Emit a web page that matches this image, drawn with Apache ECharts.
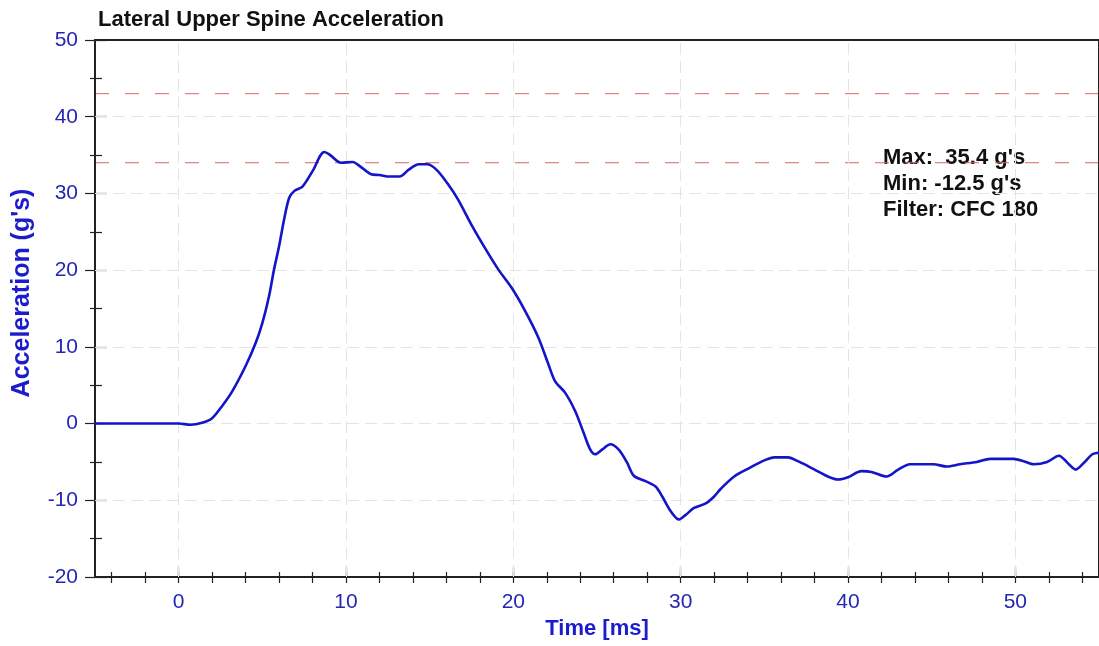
<!DOCTYPE html>
<html>
<head>
<meta charset="utf-8">
<title>Lateral Upper Spine Acceleration</title>
<script src="https://cdn.jsdelivr.net/npm/echarts@6/dist/echarts.min.js"></script>
<style>
  html, body { margin: 0; padding: 0; background: #ffffff; }
  #chart { width: 1099px; height: 646px; }
</style>
</head>
<body>
<div id="chart"></div>
<script>
// Sensor trace: time [ms] and lateral acceleration [g]
var timeMs = [
  -5, 0, 0.7, 1.4, 2.0, 2.6, 3.2, 4.0, 4.6, 5.0, 5.4, 5.7, 6.0, 6.3, 6.6, 6.9,
  7.4, 8.0, 8.7, 9.0, 9.7, 10.4, 10.8, 11.5, 12.0, 12.6, 13.2, 13.75, 14.35, 14.85,
  15.4, 16.1, 16.7, 17.5, 18.3, 19.1, 19.9, 20.7, 21.5, 22.1, 22.5, 23.1, 23.7,
  24.2, 24.6, 24.9, 25.3, 25.8, 26.3, 26.8, 27.2, 27.9, 28.5, 28.9, 29.4, 29.9,
  30.3, 30.8, 31.5, 32.0, 32.4, 33.2, 34.1, 35.0, 35.6, 36.4, 37.1, 38.0, 38.8,
  39.4, 40.0, 40.8, 41.4, 42.3, 43.0, 43.7, 45.1, 45.9, 46.7, 47.7, 48.5, 49.9,
  50.5, 51.1, 51.9, 52.6, 53.2, 53.6, 54.1, 54.6, 55.0
];
var accelG = [
  0, 0, -0.15, 0.1, 0.7, 2.3, 4.2, 7.5, 10.5, 13.1, 16.6, 20.1, 23.1, 26.6, 29.4, 30.3,
  30.9, 32.9, 35.4, 35.1, 34.0, 34.1, 33.6, 32.5, 32.4, 32.2, 32.2, 33.1, 33.8, 33.8,
  33.1, 31.2, 29.2, 25.9, 22.9, 20.1, 17.7, 14.7, 11.2, 7.7, 5.5, 4.0, 1.6,
  -1.2, -3.4, -4.0, -3.4, -2.7, -3.4, -5.1, -6.8, -7.5, -8.2, -9.5, -11.4, -12.5,
  -11.9, -11.0, -10.4, -9.5, -8.5, -6.9, -5.8, -4.8, -4.4, -4.4, -5.0, -6.0, -6.9,
  -7.3, -7.0, -6.2, -6.3, -6.9, -6.0, -5.3, -5.3, -5.6, -5.3, -5.0, -4.6, -4.6,
  -4.9, -5.3, -5.0, -4.2, -5.3, -6.0, -5.1, -4.0, -3.8
];

// Axis tick layout
var xLabelValues = [0, 10, 20, 30, 40, 50];
var xMinorTickValues = [-4, -2, 0, 2, 4, 6, 8, 10, 12, 14, 16, 18, 20, 22, 24, 26, 28,
  30, 32, 34, 36, 38, 40, 42, 44, 46, 48, 50, 52, 54];
var xGridValues = [0, 10, 20, 30, 40, 50];
var yGridValues = [-10, 0, 10, 20, 30, 40];

// Reference levels [g]
var limitLevels = [43, 34];
var filterClass = 'CFC 180';

var X_MIN = -5, X_MAX = 55;

var points = timeMs.map(function (t, i) { return [t, accelG[i]]; });
var maxG = Math.max.apply(null, accelG);
var minG = Math.min.apply(null, accelG);

var tickBlue = '#2626b4';
var nameBlue = '#1c1ccc';
var axisDark = '#222222';
var limitRed = '#d86464';
var fontFam = '"Liberation Sans", Arial, sans-serif';

function xAxisBase(extra) {
  var base = {
    type: 'value', position: 'bottom', min: X_MIN, max: X_MAX,
    axisLine: { show: true, onZero: false, lineStyle: { color: axisDark, width: 2 } },
    axisLabel: { show: false },
    axisTick: { show: false },
    splitLine: { show: false }
  };
  for (var k in extra) base[k] = extra[k];
  return base;
}

var tickLine = { color: axisDark, width: 1.2 };

// one horizontal dashed series per reference level
var limitSeries = limitLevels.map(function (v) {
  return {
    type: 'line', silent: true, z: 2, showSymbol: false,
    data: [[X_MIN, v], [X_MAX, v]],
    color: limitRed,
    lineStyle: { color: limitRed, width: 1, type: [14, 16] },
    emphasis: { disabled: true }
  };
});

var chart = echarts.init(document.getElementById('chart'), null, { renderer: 'canvas' });
chart.setOption({
  animation: false,
  backgroundColor: '#ffffff',
  textStyle: { fontFamily: fontFam },
  title: {
    text: 'Lateral Upper Spine Acceleration',
    left: 93, top: 4,
    textStyle: { fontSize: 22, fontWeight: 'bold', color: '#111111', fontFamily: fontFam }
  },
  grid: {
    left: 95, top: 40, width: 1007, height: 537,
    show: true, borderColor: axisDark, borderWidth: 2, backgroundColor: 'transparent', z: 3
  },
  xAxis: [
    xAxisBase({
      name: 'Time [ms]', nameLocation: 'middle', nameGap: 36,
      nameTextStyle: { color: nameBlue, fontSize: 22, fontWeight: 'bold', fontFamily: fontFam },
      axisLabel: { show: true, customValues: xLabelValues, color: tickBlue, fontSize: 21, margin: 15, fontFamily: fontFam },
      axisTick: { show: true, customValues: xMinorTickValues, length: 6, lineStyle: tickLine }
    }),
    xAxisBase({
      axisTick: { show: true, inside: true, customValues: xMinorTickValues, length: 5, lineStyle: tickLine }
    }),
    xAxisBase({
      axisTick: { show: true, inside: true, customValues: xLabelValues, length: 10, lineStyle: tickLine }
    })
  ],
  yAxis: [
    {
      type: 'value', min: -20, max: 50, interval: 10, position: 'left',
      axisLine: { show: true, onZero: false, lineStyle: { color: axisDark, width: 2 } },
      axisLabel: { color: tickBlue, fontSize: 21, margin: 17, fontFamily: fontFam },
      axisTick: { show: true, length: 10, lineStyle: tickLine },
      minorTick: { show: true, splitNumber: 2, length: 5, lineStyle: tickLine },
      splitLine: { show: false }
    },
    {
      type: 'value', min: -20, max: 50, interval: 10, position: 'left',
      axisLine: { show: true, onZero: false, lineStyle: { color: axisDark, width: 2 } },
      axisLabel: { show: false },
      axisTick: { show: true, inside: true, length: 12, lineStyle: tickLine },
      minorTick: { show: true, splitNumber: 2, length: 7, lineStyle: tickLine },
      splitLine: { show: false }
    }
  ],
  graphic: [{
    type: 'text', x: 22, y: 293, rotation: Math.PI / 2, silent: true,
    style: {
      text: "Acceleration (g's)", font: 'bold 25px ' + fontFam, fill: nameBlue,
      align: 'center', verticalAlign: 'middle'
    }
  }, {
    type: 'text', left: 883, top: 145, silent: true,
    style: {
      text: 'Max:  ' + maxG.toFixed(1) + " g's\nMin: " + minG.toFixed(1) + " g's\nFilter: " + filterClass,
      font: 'bold 22px ' + fontFam, fill: '#111111', lineHeight: 26
    }
  }],
  series: [{
    // light dashed grid
    type: 'line', data: [], silent: true, z: 1,
    markLine: {
      silent: true, symbol: 'none', animation: false,
      label: { show: false },
      lineStyle: { color: '#e4e4e4', width: 1, type: [12, 6] },
      data: xGridValues.map(function (v) { return { xAxis: v }; })
        .concat(yGridValues.map(function (v) { return { yAxis: v }; }))
    }
  }].concat(limitSeries).concat([{
    type: 'line',
    data: points,
    showSymbol: false,
    smooth: 0.3,
    z: 5,
    color: '#1414c8',
    lineStyle: { color: '#1414c8', width: 2.6 }
  }])
});
</script>
</body>
</html>
